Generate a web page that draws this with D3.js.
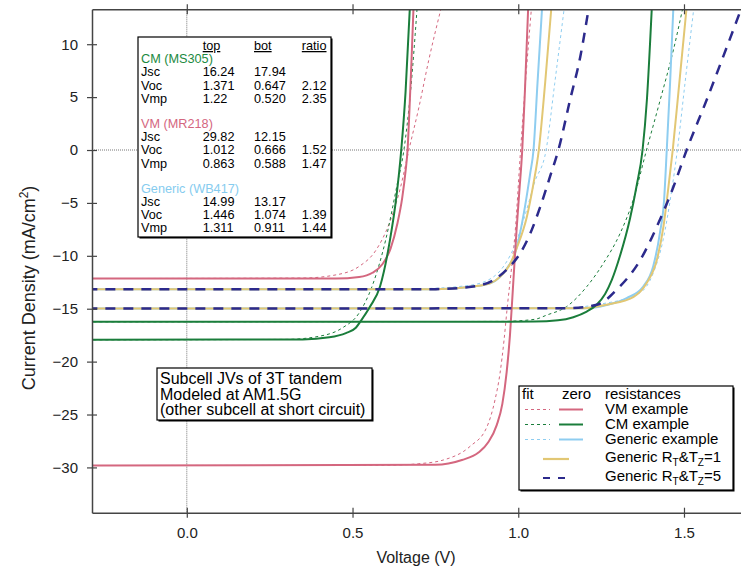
<!DOCTYPE html>
<html>
<head>
<meta charset="utf-8">
<script src="https://cdn.jsdelivr.net/npm/d3@7"></script>
<style>
  body { margin: 0; background: #fff; }
  svg { font-family: "Liberation Sans", Arial, sans-serif; }
</style>
</head>
<body>
<div id="chart"></div>
<script>
// ---- data (V in volts, J in mA/cm2) ----
var xTicks = [0, 0.5, 1.0, 1.5];
var yTicks = [-30, -25, -20, -15, -10, -5, 0, 5, 10];

// VM example (MR218)
var vmTopZero = [[-0.3, -29.82], [0.75, -29.75], [0.83, -29.3], [0.88, -28.6], [0.91, -27.6], [0.935, -26.0], [0.952, -24.0], [0.965, -21.0], [0.975, -17.5], [0.985, -12.5], [0.995, -7.5], [1.003, -4.0], [1.012, 0], [1.02, 5.5], [1.03, 13.5]];
var vmTopFit = [[-0.3, -29.82], [0.6, -29.8], [0.7, -29.65], [0.774, -29.3], [0.855, -28.0], [0.905, -26.2], [0.93, -23.6], [0.945, -21.1], [0.957, -18.0], [0.967, -14.8], [0.978, -11.65], [0.99, -8.0], [1.007, 0], [1.022, 6.5], [1.04, 13.5]];
var vmBotZero = [[-0.3, -12.15], [0.45, -12.15], [0.52, -12.0], [0.56, -11.6], [0.59, -10.8], [0.615, -9.3], [0.635, -7.0], [0.65, -4.5], [0.66, -2.0], [0.666, 0], [0.672, 4.0], [0.678, 8.5], [0.684, 13.5]];
var vmBotFit = [[-0.3, -12.15], [0.35, -12.1], [0.45, -11.8], [0.52, -11.0], [0.57, -9.5], [0.61, -7.0], [0.645, -3.5], [0.67, 0], [0.7, 4.0], [0.73, 8.5], [0.768, 13.5]];

// CM example (MS305)
var cmTopZero = [[-0.3, -16.24], [1.05, -16.22], [1.12, -16.1], [1.166, -15.8], [1.205, -15.3], [1.237, -14.6], [1.262, -13.6], [1.282, -12.3], [1.307, -10.0], [1.337, -6.5], [1.357, -3.4], [1.375, 0], [1.388, 4.7], [1.403, 13.5]];
var cmTopFit = [[-0.3, -16.24], [0.95, -16.2], [1.05, -16.0], [1.086, -15.6], [1.146, -14.8], [1.207, -12.9], [1.257, -10.7], [1.307, -7.9], [1.347, -4.7], [1.387, 0], [1.428, 4.7], [1.468, 9.45], [1.497, 13.5]];
var cmBotZero = [[-0.3, -17.94], [0.35, -17.9], [0.43, -17.7], [0.48, -17.3], [0.51, -16.8], [0.524, -16.2], [0.553, -14.8], [0.583, -12.9], [0.613, -8.5], [0.632, -4.5], [0.647, 0], [0.66, 5.5], [0.673, 13.5]];
var cmBotFit = [[-0.3, -17.94], [0.3, -17.9], [0.4, -17.6], [0.47, -16.8], [0.52, -15.4], [0.56, -12.8], [0.6, -8.5], [0.635, -3.2], [0.655, 0], [0.675, 5.5], [0.695, 13.5]];

// Generic example (WB417)
var genTopZero = [[-0.3, -14.99], [1.2, -14.95], [1.267, -14.65], [1.327, -14.0], [1.377, -12.9], [1.407, -11.0], [1.427, -7.9], [1.44, -4.7], [1.448, 0], [1.458, 6.3], [1.468, 13.5]];
var genTopFit = [[-0.3, -14.99], [1.15, -14.9], [1.24, -14.6], [1.367, -13.5], [1.407, -11.65], [1.437, -8.5], [1.463, -3.8], [1.48, 0], [1.503, 6.3], [1.53, 13.5]];
var genBotZero = [[-0.3, -13.17], [0.75, -13.15], [0.864, -12.9], [0.915, -12.6], [0.945, -12.0], [0.97, -11.0], [0.99, -9.8], [1.005, -7.9], [1.02, -5.4], [1.036, -2.2], [1.046, 0], [1.058, 6.3], [1.072, 13.5]];
var genBotFit = [[-0.3, -13.17], [0.7, -13.1], [0.85, -12.8], [0.92, -12.1], [0.96, -10.8], [0.99, -9.0], [1.02, -6.2], [1.05, -3.0], [1.084, 0], [1.11, 6.3], [1.139, 13.5]];

// Generic RT&TZ=1
var genR1Top = [[-0.3, -14.99], [1.2, -14.95], [1.27, -14.6], [1.347, -13.9], [1.387, -12.6], [1.418, -10.4], [1.438, -7.25], [1.453, -3.5], [1.466, 0], [1.483, 5.4], [1.508, 13.5]];
var genR1Bot = [[-0.3, -13.17], [0.75, -13.15], [0.864, -12.9], [0.915, -12.6], [0.948, -11.9], [0.975, -10.8], [0.995, -9.3], [1.026, -6.3], [1.046, -3.15], [1.062, 0], [1.081, 6.3], [1.1, 13.5]];

// Generic RT&TZ=5
var genR5Top = [[-0.3, -14.99], [1.15, -14.95], [1.24, -14.6], [1.297, -13.2], [1.368, -10.4], [1.418, -7.25], [1.468, -3.5], [1.508, 0], [1.568, 4.7], [1.618, 8.8], [1.672, 13.3]];
var genR5Bot = [[-0.3, -13.17], [0.75, -13.15], [0.864, -12.9], [0.925, -12.3], [0.965, -11.3], [1.005, -9.8], [1.036, -7.9], [1.066, -5.4], [1.096, -2.5], [1.121, 0], [1.156, 4.7], [1.187, 8.8], [1.213, 13.5]];

var tableRows = [
  {group: 'CM (MS305)', color: '#1c8a3f', rows: [['Jsc', '16.24', '17.94', ''], ['Voc', '1.371', '0.647', '2.12'], ['Vmp', '1.22', '0.520', '2.35']]},
  {group: 'VM (MR218)', color: '#d4677f', rows: [['Jsc', '29.82', '12.15', ''], ['Voc', '1.012', '0.666', '1.52'], ['Vmp', '0.863', '0.588', '1.47']]},
  {group: 'Generic (WB417)', color: '#86ccef', rows: [['Jsc', '14.99', '13.17', ''], ['Voc', '1.446', '1.074', '1.39'], ['Vmp', '1.311', '0.911', '1.44']]}
];

var noteLines = ['Subcell JVs of 3T tandem', 'Modeled at AM1.5G', '(other subcell at short circuit)'];

var red = '#d4677f', green = '#1a7d3b', blue = '#8ecdf0', yellow = '#e2c774', navy = '#2c2a8c';

var series = [
  {data: vmBotFit, color: red, width: 1, dash: '3,3'},
  {data: vmTopFit, color: red, width: 1, dash: '3,3'},
  {data: cmBotFit, color: green, width: 1, dash: '3,3'},
  {data: cmTopFit, color: green, width: 1, dash: '3,3'},
  {data: genBotFit, color: blue, width: 1, dash: '3,3'},
  {data: genTopFit, color: blue, width: 1, dash: '3,3'},
  {data: genBotZero, color: blue, width: 2, dash: null},
  {data: genTopZero, color: blue, width: 2, dash: null},
  {data: genR1Bot, color: yellow, width: 2, dash: null},
  {data: genR1Top, color: yellow, width: 2, dash: null},
  {data: vmBotZero, color: red, width: 2, dash: null},
  {data: vmTopZero, color: red, width: 2, dash: null},
  {data: cmBotZero, color: green, width: 2, dash: null},
  {data: cmTopZero, color: green, width: 2, dash: null},
  {data: genR5Bot, color: navy, width: 2.5, dash: '10,8'},
  {data: genR5Top, color: navy, width: 2.5, dash: '10,8'}
];

var W = 741, H = 574;
var plotL = 92, plotR = 741, plotT = 9.3, plotB = 512.7;

var svg = d3.select('#chart').append('svg')
    .attr('width', W)
    .attr('height', H);

var x = d3.scaleLinear().domain([-0.286, 1.672]).range([plotL, plotR]);
var y = d3.scaleLinear().domain([-34.28, 13.3]).range([plotB, plotT]);

svg.append('clipPath').attr('id', 'clip')
  .append('rect')
    .attr('x', plotL).attr('y', plotT)
    .attr('width', plotR - plotL).attr('height', plotB - plotT);

// zero lines
svg.append('line')
    .attr('x1', x(0)).attr('x2', x(0)).attr('y1', plotT).attr('y2', plotB)
    .attr('stroke', '#777').attr('stroke-width', 1).attr('stroke-dasharray', '1,1');
svg.append('line')
    .attr('x1', plotL).attr('x2', plotR).attr('y1', y(0)).attr('y2', y(0))
    .attr('stroke', '#777').attr('stroke-width', 1).attr('stroke-dasharray', '1,1');

// curves
var line = d3.line()
    .x(function(d) { return x(d[0]); })
    .y(function(d) { return y(d[1]); })
    .curve(d3.curveMonotoneX);

svg.append('g').attr('clip-path', 'url(#clip)')
  .selectAll('path')
  .data(series)
  .enter()
  .append('path')
    .attr('d', function(d) { return line(d.data); })
    .attr('fill', 'none')
    .attr('stroke', function(d) { return d.color; })
    .attr('stroke-width', function(d) { return d.width; })
    .attr('stroke-dasharray', function(d) { return d.dash; });

// axes
var axisColor = '#444';
var xAxis = svg.append('g')
    .attr('transform', 'translate(0,' + plotB + ')')
    .call(d3.axisBottom(x).tickValues(xTicks).tickFormat(d3.format('.1f')).tickSize(5).tickSizeOuter(0).tickPadding(10));
var xTop = svg.append('g')
    .attr('transform', 'translate(0,' + plotT + ')')
    .call(d3.axisTop(x).tickValues(xTicks).tickFormat('').tickSize(5).tickSizeOuter(0));
var yAxis = svg.append('g')
    .attr('transform', 'translate(' + plotL + ',0)')
    .call(d3.axisLeft(y).tickValues(yTicks).tickFormat(d3.format('d')).tickSize(5).tickSizeOuter(0).tickPadding(9));

[xAxis, xTop].forEach(function(g) {
  g.selectAll('.tick line').attr('y1', -5).attr('y2', 5);
});
yAxis.selectAll('.tick line').attr('x1', -5).attr('x2', 5);

[xAxis, xTop, yAxis].forEach(function(g) {
  g.select('.domain').attr('stroke', axisColor).attr('stroke-width', 1.5);
  g.selectAll('.tick line').attr('stroke', axisColor).attr('stroke-width', 1.2);
  g.selectAll('.tick text').attr('fill', '#222').style('font-size', '15px')
    .style('font-family', '"Liberation Sans", Arial, sans-serif');
});

// axis titles
svg.append('text')
    .attr('x', 416).attr('y', 563)
    .attr('text-anchor', 'middle')
    .style('font-size', '16px').attr('fill', '#222')
    .text('Voltage (V)');

var yt = svg.append('text')
    .attr('transform', 'translate(35,288) rotate(-90)')
    .attr('text-anchor', 'middle')
    .style('font-size', '18px').attr('fill', '#222');
yt.append('tspan').text('Current Density (mA/cm');
yt.append('tspan').attr('dy', -7).style('font-size', '12px').text('2');
yt.append('tspan').attr('dy', 7).text(')');

// boxes
function box(x0, y0, w, h) {
  svg.append('rect').attr('x', x0 + 1.5).attr('y', y0 + 1.5).attr('width', w).attr('height', h).attr('fill', '#000');
  svg.append('rect').attr('x', x0).attr('y', y0).attr('width', w).attr('height', h)
      .attr('fill', '#fff').attr('stroke', '#000').attr('stroke-width', 1.2);
}

// parameter table
box(138, 37, 193, 200);
var tbl = svg.append('g').style('font-size', '12.7px').attr('fill', '#000');
var colX = [141, 202.7, 254, 326.5];
var hdr = [['top', colX[1], 'start'], ['bot', colX[2], 'start'], ['ratio', colX[3], 'end']];
hdr.forEach(function(h) {
  tbl.append('text').attr('x', h[1]).attr('y', 50).attr('text-anchor', h[2])
     .attr('text-decoration', 'underline').text(h[0]);
});
var ty = 63.3;
tableRows.forEach(function(g) {
  tbl.append('text').attr('x', colX[0]).attr('y', ty).attr('fill', g.color).text(g.group);
  ty += 13.1;
  g.rows.forEach(function(r) {
    tbl.append('text').attr('x', colX[0]).attr('y', ty).text(r[0]);
    tbl.append('text').attr('x', colX[1]).attr('y', ty).text(r[1]);
    tbl.append('text').attr('x', colX[2]).attr('y', ty).text(r[2]);
    tbl.append('text').attr('x', colX[3]).attr('y', ty).attr('text-anchor', 'end').text(r[3]);
    ty += 13.1;
  });
  ty += 12.5;
});

// note box
box(157, 368, 215, 52);
svg.append('g').style('font-size', '16px').selectAll('text')
  .data(noteLines).enter().append('text')
    .attr('x', 160).attr('y', function(d, i) { return 384 + i * 15.5; })
    .text(function(d) { return d; });

// legend
box(519, 386, 214, 104);
var lg = svg.append('g').style('font-size', '15px');
lg.append('text').attr('x', 522).attr('y', 399).text('fit');
lg.append('text').attr('x', 562).attr('y', 399).text('zero');
lg.append('text').attr('x', 605).attr('y', 399).text('resistances');
var legRows = [
  {label: 'VM example', color: red, y: 414},
  {label: 'CM example', color: green, y: 429},
  {label: 'Generic example', color: blue, y: 444}
];
legRows.forEach(function(r) {
  lg.append('line').attr('x1', 525).attr('x2', 550).attr('y1', r.y - 4.5).attr('y2', r.y - 4.5)
    .attr('stroke', r.color).attr('stroke-width', 1).attr('stroke-dasharray', '3,3');
  lg.append('line').attr('x1', 559).attr('x2', 583).attr('y1', r.y - 4.5).attr('y2', r.y - 4.5)
    .attr('stroke', r.color).attr('stroke-width', 2);
  lg.append('text').attr('x', 605).attr('y', r.y).text(r.label);
});
[[yellow, 462, '1', null], [navy, 481, '5', '7,8']].forEach(function(r) {
  lg.append('line').attr('x1', 543).attr('x2', 569).attr('y1', r[1] - 3).attr('y2', r[1] - 3)
    .attr('stroke', r[0]).attr('stroke-width', 2.2).attr('stroke-dasharray', r[3]);
  var t = lg.append('text').attr('x', 605).attr('y', r[1]);
  t.append('tspan').text('Generic R');
  t.append('tspan').attr('dy', 4).style('font-size', '10px').text('T');
  t.append('tspan').attr('dy', -4).text('&T');
  t.append('tspan').attr('dy', 4).style('font-size', '10px').text('Z');
  t.append('tspan').attr('dy', -4).text('=' + r[2]);
});
</script>
</body>
</html>
